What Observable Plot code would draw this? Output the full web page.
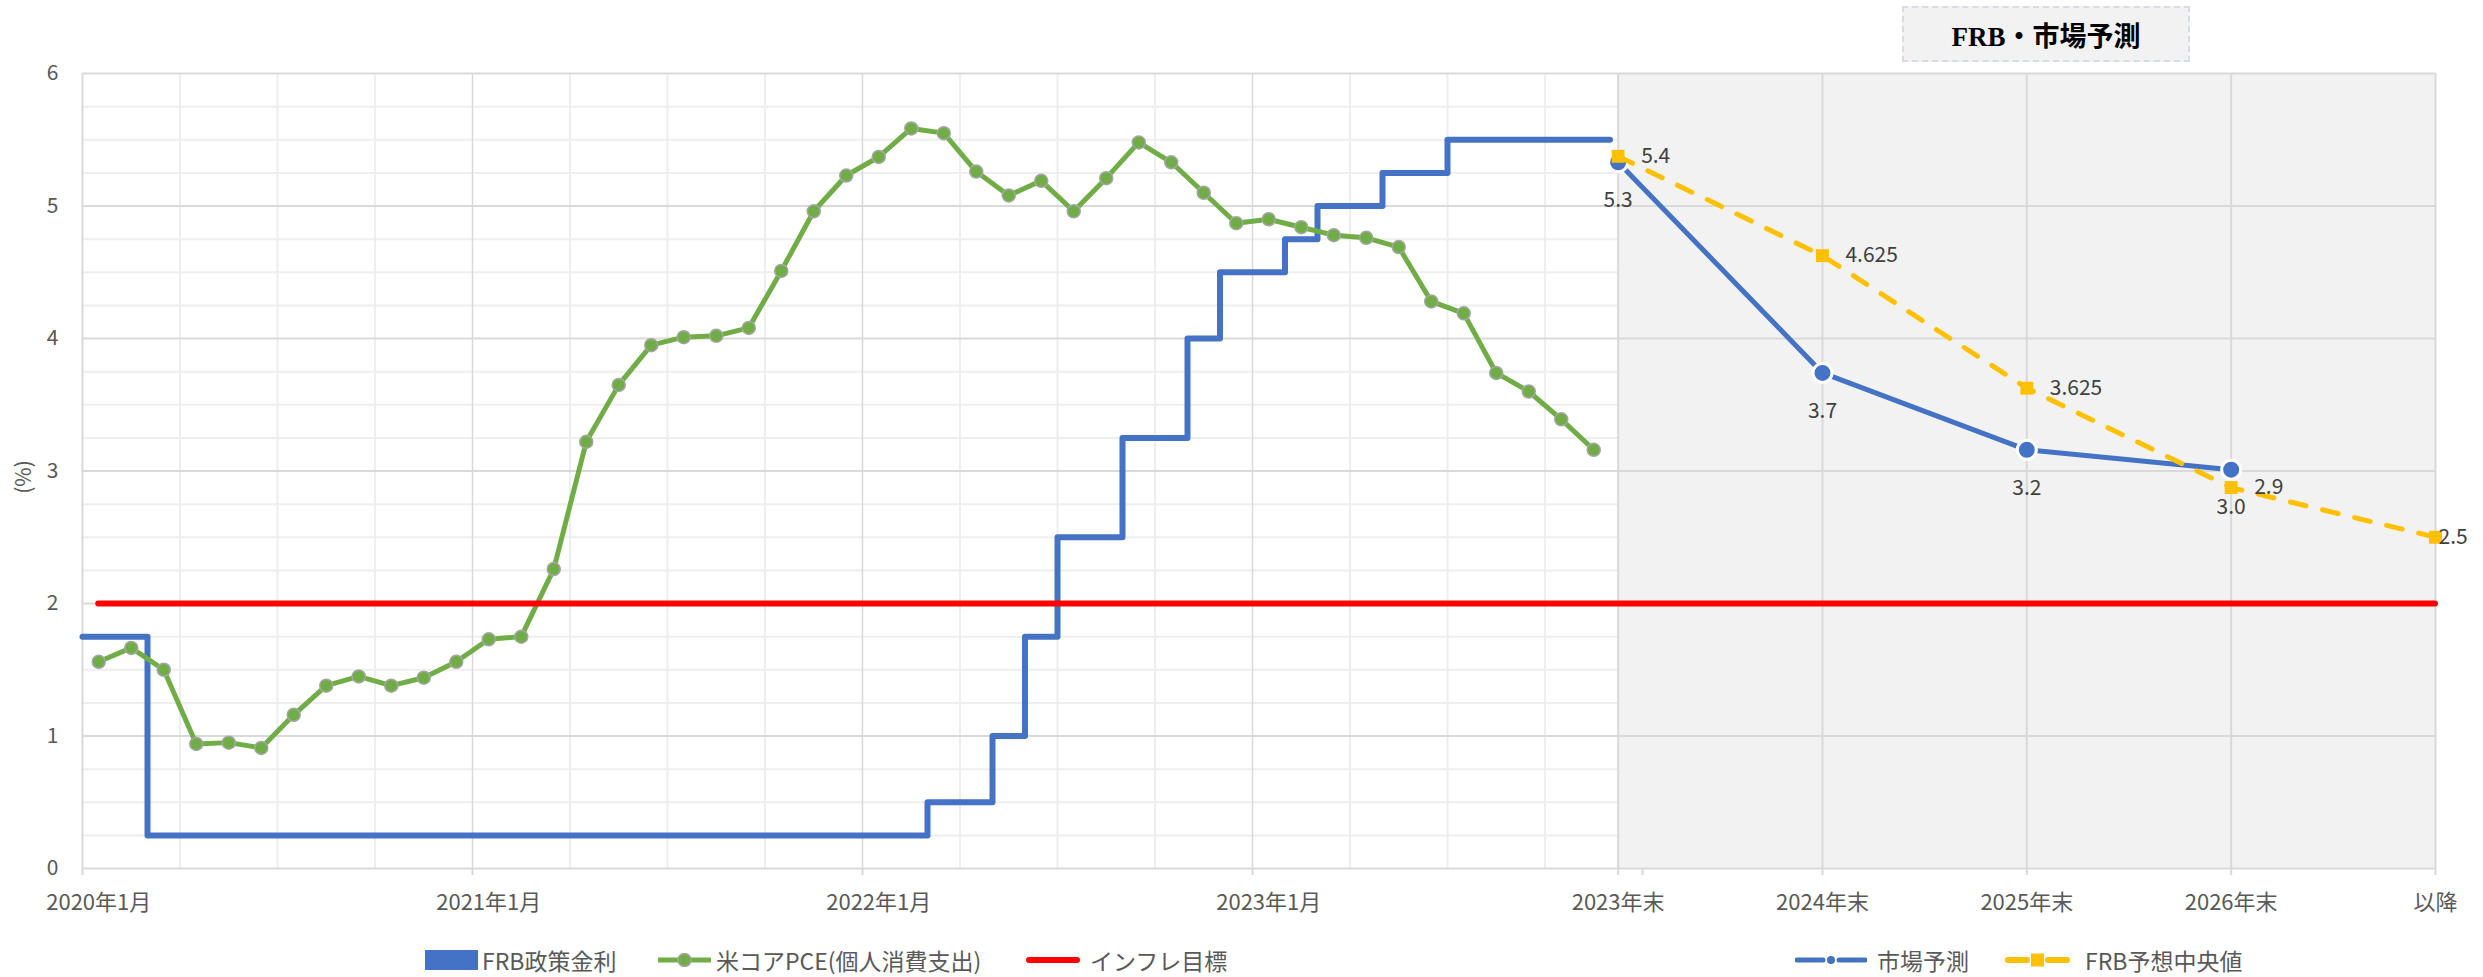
<!DOCTYPE html>
<html>
<head>
<meta charset="utf-8">
<script src="https://cdn.jsdelivr.net/npm/d3@7"></script>
<script src="https://cdn.jsdelivr.net/npm/@observablehq/plot@0.6"></script>
<style>
  body { margin: 0; background: #fff; }
  #wrap { position: relative; width: 2483px; height: 977px; font-family: "Noto Sans CJK JP", "Noto Sans", sans-serif; }
  #chart { position: absolute; left: 0; top: 0; }
  #titlebox {
    position: absolute; left: 1902px; top: 6px; width: 284px; height: 52px;
    background: #F2F2F2; border: 2px dashed #D6DCE5;
    display: flex; align-items: center; justify-content: center;
    font-family: "Liberation Serif", "DejaVu Serif", "Noto Sans CJK JP", serif;
    font-weight: bold; font-size: 27px; color: #000;
  }
  .leg { position: absolute; top: 946px; height: 28px; display: flex; align-items: center;
         font-size: 23px; color: #595959; white-space: nowrap; }
  .leg svg { display: block; }
</style>
</head>
<body>
<div id="wrap">
  <div id="chart"></div>
  <div id="titlebox">FRB・市場予測</div>
</div>
<script>
// ---------------- data ----------------
// Monthly series from 2020年1月 (index 0) to 2023年11月 (index 46)
const fedRate = [
  1.75, 1.75,
  0.25, 0.25, 0.25, 0.25, 0.25, 0.25, 0.25, 0.25, 0.25, 0.25,
  0.25, 0.25, 0.25, 0.25, 0.25, 0.25, 0.25, 0.25, 0.25, 0.25, 0.25, 0.25,
  0.25, 0.25,
  0.5, 0.5, 1.0, 1.75, 2.5, 2.5, 3.25, 3.25, 4.0, 4.5,
  4.5, 4.75, 5.0, 5.0, 5.25, 5.25, 5.5, 5.5, 5.5, 5.5, 5.5
];
const corePCE = [
  1.56, 1.665, 1.50, 0.94, 0.95, 0.91, 1.16, 1.38, 1.45, 1.38, 1.44, 1.56,
  1.73, 1.75, 2.26, 3.22, 3.65, 3.95, 4.01, 4.02, 4.08, 4.51, 4.96, 5.23,
  5.37, 5.585, 5.55, 5.26, 5.08, 5.19, 4.96, 5.21, 5.48, 5.33, 5.10, 4.87,
  4.90, 4.84, 4.78, 4.76, 4.69, 4.28, 4.19, 3.74, 3.60, 3.39, 3.16
];
const inflationTarget = 2;

const historyTickMonths = [0, 12, 24, 36];
const historyTickLabels = ["2020年1月", "2021年1月", "2022年1月", "2023年1月"];
const historyMonthsSpan = 48;

const forecastCategories = ["2023年末", "2024年末", "2025年末", "2026年末", "以降"];
const marketForecast = [5.33, 3.74, 3.16, 3.01];
const marketLabels = ["5.3", "3.7", "3.2", "3.0"];
const frbMedian = [5.375, 4.625, 3.625, 2.875, 2.5];
const frbLabels = ["5.4", "4.625", "3.625", "2.9", "2.5"];

const yTicks = [0, 1, 2, 3, 4, 5, 6];

// ---------------- layout (x in month units) ----------------
const FC_START = 47.25;
const FC_STEP = 6.2875;
const fcPos = i => FC_START + i * FC_STEP;
const X_MAX = fcPos(forecastCategories.length - 1);

// ---------------- derived tables ----------------
const fedSteps = fedRate.map((v, i) => ({x: i, y: v}))
  .concat([{x: fedRate.length, y: fedRate[fedRate.length - 1]}]);
const pce = corePCE.map((v, i) => ({x: i + 0.5, y: v}));
const market = marketForecast.map((v, i) => ({x: fcPos(i), y: v, label: marketLabels[i]}));
const frb = frbMedian.map((v, i) => ({x: fcPos(i), y: v, label: frbLabels[i]}));
const fcPositions = forecastCategories.map((c, i) => fcPos(i));

const labelMap = new Map();
historyTickMonths.forEach((m, i) => labelMap.set(m + 0.5, historyTickLabels[i]));
forecastCategories.forEach((c, i) => labelMap.set(fcPos(i), c));

const minorY = d3.range(1, 24).map(k => k * 0.25).filter(v => v % 1 !== 0);
const minorX = d3.range(3, historyMonthsSpan, 3).filter(m => m % 12 !== 0 && m < FC_START);
const majorX = historyTickMonths.filter(m => m > 0);

const chart = Plot.plot({
  width: 2483,
  height: 977,
  marginLeft: 82,
  marginRight: 48,
  marginTop: 73,
  marginBottom: 109,
  x: {type: "linear", domain: [0, X_MAX]},
  y: {domain: [0, 6]},
  style: {fontFamily: '"Noto Sans CJK JP", "Noto Sans", sans-serif', fontSize: "21px", color: "#595959", background: "transparent", overflow: "visible"},
  marks: [
    // forecast shaded area
    Plot.rect([0], {x1: () => fcPos(0), x2: () => X_MAX, y1: () => 0, y2: () => 6, fill: "#F2F2F2"}),
    // minor grids (history)
    Plot.ruleY(minorY, {y: d => d, x1: () => 0, x2: () => FC_START, stroke: "#EEEEEE", strokeWidth: 2}),
    Plot.ruleX(minorX, {x: d => d, y1: () => 0, y2: () => 6, stroke: "#EEEEEE", strokeWidth: 2}),
    // major grids
    Plot.ruleX(majorX, {x: d => d, y1: () => 0, y2: () => 6, stroke: "#D9D9D9", strokeWidth: 1.5}),
    Plot.ruleX(fcPositions, {x: d => d, y1: () => 0, y2: () => 6, stroke: "#D9D9D9", strokeWidth: 2}),
    Plot.ruleY(yTicks, {y: d => d, stroke: "#D9D9D9", strokeWidth: 2}),
    Plot.ruleX([0], {x: d => d, y1: () => 0, y2: () => 6, stroke: "#D9D9D9", strokeWidth: 2}),
    // axes
    Plot.axisY({ticks: yTicks, tickFormat: d => String(d), tickSize: 0, tickPadding: 24, fontSize: 21, fill: "#595959", label: null}),
    Plot.text(["(%)"], {text: d => d, frameAnchor: "left", dx: -58, dy: 6, rotate: -90, textAnchor: "middle", lineAnchor: "middle", fontSize: 21, fill: "#595959"}),
    Plot.axisX({ticks: [...historyTickMonths, historyMonthsSpan, ...fcPositions], tickSize: 7, tickFormat: () => "", stroke: "#D9D9D9", strokeWidth: 2, label: null}),
    Plot.axisX({ticks: [...labelMap.keys()], tickFormat: d => labelMap.get(d), tickSize: 0, tickPadding: 26, fontSize: 22, fill: "#595959", label: null}),
    // FRB policy rate (step)
    Plot.line(fedSteps, {x: "x", y: "y", curve: "step-after", stroke: "#4472C4", strokeWidth: 6}),
    // core PCE
    Plot.line(pce, {x: "x", y: "y", stroke: "#70AD47", strokeWidth: 5}),
    Plot.dot(pce, {x: "x", y: "y", r: 6.5, fill: "#70AD47", stroke: "#A5A5A5", strokeWidth: 1.5}),
    // inflation target
    Plot.ruleY([inflationTarget], {y: d => d, x1: () => pce[0].x, x2: () => X_MAX, stroke: "#FF0000", strokeWidth: 6, strokeLinecap: "round"}),
    // market forecast
    Plot.line(market, {x: "x", y: "y", stroke: "#4472C4", strokeWidth: 5}),
    Plot.dot(market, {x: "x", y: "y", r: 9.5, fill: "#4472C4", stroke: "white", strokeWidth: 3}),
    Plot.text(market, {x: "x", y: "y", text: "label", dy: 38, fontSize: 21, fill: "#404040"}),
    // FRB median
    Plot.line(frb, {x: "x", y: "y", stroke: "#FFC000", strokeWidth: 5, strokeDasharray: "16,17", strokeLinecap: "round"}),
    Plot.dot(frb, {x: "x", y: "y", symbol: "square", r: 7.3, fill: "#FFC000"}),
    Plot.text(frb.slice(0, -1), {x: "x", y: "y", text: "label", dx: 23, textAnchor: "start", fontSize: 21, fill: "#404040"}),
    Plot.text(frb.slice(-1), {x: "x", y: "y", text: "label", dx: 3, textAnchor: "start", fontSize: 21, fill: "#404040"})
  ]
});
document.getElementById("chart").appendChild(chart);

// ---------------- legend ----------------
const legendItems = [
  {left: 425, gap: 4, label: "FRB政策金利",
   icon: '<svg width="53" height="20"><rect x="0" y="0" width="53" height="20" fill="#4472C4"/></svg>'},
  {left: 657, gap: 4, label: "米コアPCE(個人消費支出)",
   icon: '<svg width="55" height="16"><line x1="1" y1="8" x2="54" y2="8" stroke="#70AD47" stroke-width="5"/><circle cx="27.5" cy="8" r="6.5" fill="#70AD47" stroke="#A5A5A5" stroke-width="1.5"/></svg>'},
  {left: 1026, gap: 10, label: "インフレ目標",
   icon: '<svg width="54" height="10"><line x1="3" y1="5" x2="51" y2="5" stroke="#FF0000" stroke-width="6" stroke-linecap="round"/></svg>'},
  {left: 1795, gap: 10, label: "市場予測",
   icon: '<svg width="72" height="12"><line x1="2" y1="6" x2="28" y2="6" stroke="#4472C4" stroke-width="5" stroke-linecap="round"/><circle cx="36" cy="6" r="4" fill="#4472C4"/><line x1="44" y1="6" x2="70" y2="6" stroke="#4472C4" stroke-width="5" stroke-linecap="round"/></svg>'},
  {left: 2005, gap: 15, label: "FRB予想中央値",
   icon: '<svg width="65" height="16"><line x1="3" y1="8" x2="22" y2="8" stroke="#FFC000" stroke-width="6" stroke-linecap="round"/><rect x="26" y="1.5" width="13" height="13" fill="#FFC000"/><line x1="43" y1="8" x2="62" y2="8" stroke="#FFC000" stroke-width="6" stroke-linecap="round"/></svg>'}
];
const wrap = document.getElementById("wrap");
for (const it of legendItems) {
  const div = document.createElement("div");
  div.className = "leg";
  div.style.left = it.left + "px";
  div.innerHTML = it.icon + '<span style="margin-left:' + it.gap + 'px">' + it.label + '</span>';
  wrap.appendChild(div);
}
</script>
</body>
</html>
